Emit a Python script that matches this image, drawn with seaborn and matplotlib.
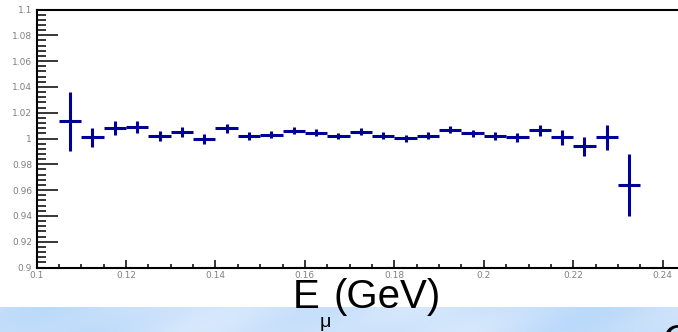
import numpy as np
import matplotlib
matplotlib.use("Agg")
import matplotlib.pyplot as plt
from matplotlib.ticker import MultipleLocator, FormatStrFormatter
import seaborn as sns

# Ratio per muon-energy bin (bin width 0.005 GeV, first bin 0.105-0.110)
bin_lo = 0.105
bin_width = 0.005
ratio = [1.0132, 1.0008, 1.0078, 1.0090, 1.0020, 1.0050, 0.9997, 1.0078,
         1.0020, 1.0031, 1.0062, 1.0044, 1.0020, 1.0054, 1.0020, 1.0002,
         1.0020, 1.0067, 1.0039, 1.0020, 1.0008, 1.0065, 1.0008, 0.9938,
         1.0008, 0.9642]
ratio_err = [0.0226, 0.0077, 0.0054, 0.0047, 0.0040, 0.0039, 0.0036, 0.0033,
             0.0028, 0.0028, 0.0026, 0.0026, 0.0026, 0.0027, 0.0027, 0.0027,
             0.0027, 0.0028, 0.0029, 0.0030, 0.0033, 0.0042, 0.0058, 0.0070,
             0.0100, 0.0240]
x_ticks = [0.10, 0.12, 0.14, 0.16, 0.18, 0.20, 0.22, 0.24]
y_ticks = [0.90, 0.92, 0.94, 0.96, 0.98, 1.00, 1.02, 1.04, 1.06, 1.08, 1.10]

sns.set_theme(style="white")
plt.rcParams["font.family"] = ["Liberation Sans", "DejaVu Sans"]

W, H = 678, 332
fig = plt.figure(figsize=(W / 100, H / 100), dpi=100)
fig.patch.set_facecolor("white")

# light-blue slide band along the bottom edge
band = fig.add_axes([0, 0, 1, 25 / H], zorder=0)
xx = np.arange(W)
yy = np.arange(25)[:, None]
shade = (0.5 + 0.22 * np.sin(xx / 41.0) + 0.18 * np.sin(xx / 97.0 + 1.3)
         + 0.10 * np.sin(xx / 23.0 + yy / 9.0))
shade = np.clip(shade, 0, 1)[..., None]
light = np.array([0.86, 0.92, 0.99])
dark = np.array([0.73, 0.85, 0.98])
band.imshow(light + (dark - light) * shade, aspect="auto", interpolation="bilinear")
band.set_axis_off()

# main frame: 0.1 at x=36.5 px, 0.02 GeV per 89.5 px, extends past right edge
left_px, top_px, bottom_px = 36.5, 9.5, 267.5
px_per_unit = 4473
ax = fig.add_axes([left_px / W, (H - bottom_px) / H,
                   0.15 * px_per_unit / W, (bottom_px - top_px) / H], zorder=2)
ax.set_facecolor("white")

centers = bin_lo + bin_width * (np.arange(len(ratio)) + 0.5)
ax.errorbar(centers, ratio, yerr=ratio_err, xerr=bin_width / 2, fmt="none",
            ecolor="#000099", elinewidth=2.2, capsize=0)

ax.set_xlim(0.10, 0.25)
ax.set_ylim(0.90, 1.10)
ax.xaxis.set_major_locator(plt.FixedLocator(x_ticks))
ax.yaxis.set_major_locator(plt.FixedLocator(y_ticks))
ax.xaxis.set_minor_locator(MultipleLocator(0.005))
ax.yaxis.set_minor_locator(MultipleLocator(0.004))
ax.xaxis.set_major_formatter(FormatStrFormatter("%g"))
ax.yaxis.set_major_formatter(FormatStrFormatter("%g"))

for side in ["left", "bottom", "top"]:
    ax.spines[side].set_visible(True)
    ax.spines[side].set_color("black")
    ax.spines[side].set_linewidth(1.5)
ax.spines["right"].set_visible(False)

ax.tick_params(axis="y", which="major", direction="in", length=15, width=1.1,
               color="black", left=True, right=False, labelsize=6.5,
               labelcolor="#808080", pad=3.2)
ax.tick_params(axis="y", which="minor", direction="in", length=6.5, width=1.1,
               color="black", left=True, right=False)
ax.tick_params(axis="x", which="major", direction="in", length=5.5, width=1.1,
               color="black", bottom=True, top=False, labelsize=6.5,
               labelcolor="#808080", pad=2.2)
ax.tick_params(axis="x", which="minor", direction="in", length=3, width=1.1,
               color="black", bottom=True, top=False)
for lab in ax.get_xticklabels() + ax.get_yticklabels():
    lab.set_family("DejaVu Sans")

# axis title E_mu (GeV), drawn as figure text
def fx(px):
    return px / W

def fy(py):
    return (H - py) / H

fig.text(fx(293), fy(308), "E", fontsize=29, color="black", va="baseline",
         ha="left", zorder=5)
fig.text(fx(320), fy(327), "μ", fontsize=14, color="black", va="baseline",
         ha="left", zorder=5)
fig.text(fx(333), fy(308), "(GeV)", fontsize=29, color="black", va="baseline",
         ha="left", zorder=5)
fig.text(fx(663), fy(353), "C", fontsize=29, color="black", va="baseline",
         ha="left", zorder=5)

fig.savefig("out.png", dpi=100)
